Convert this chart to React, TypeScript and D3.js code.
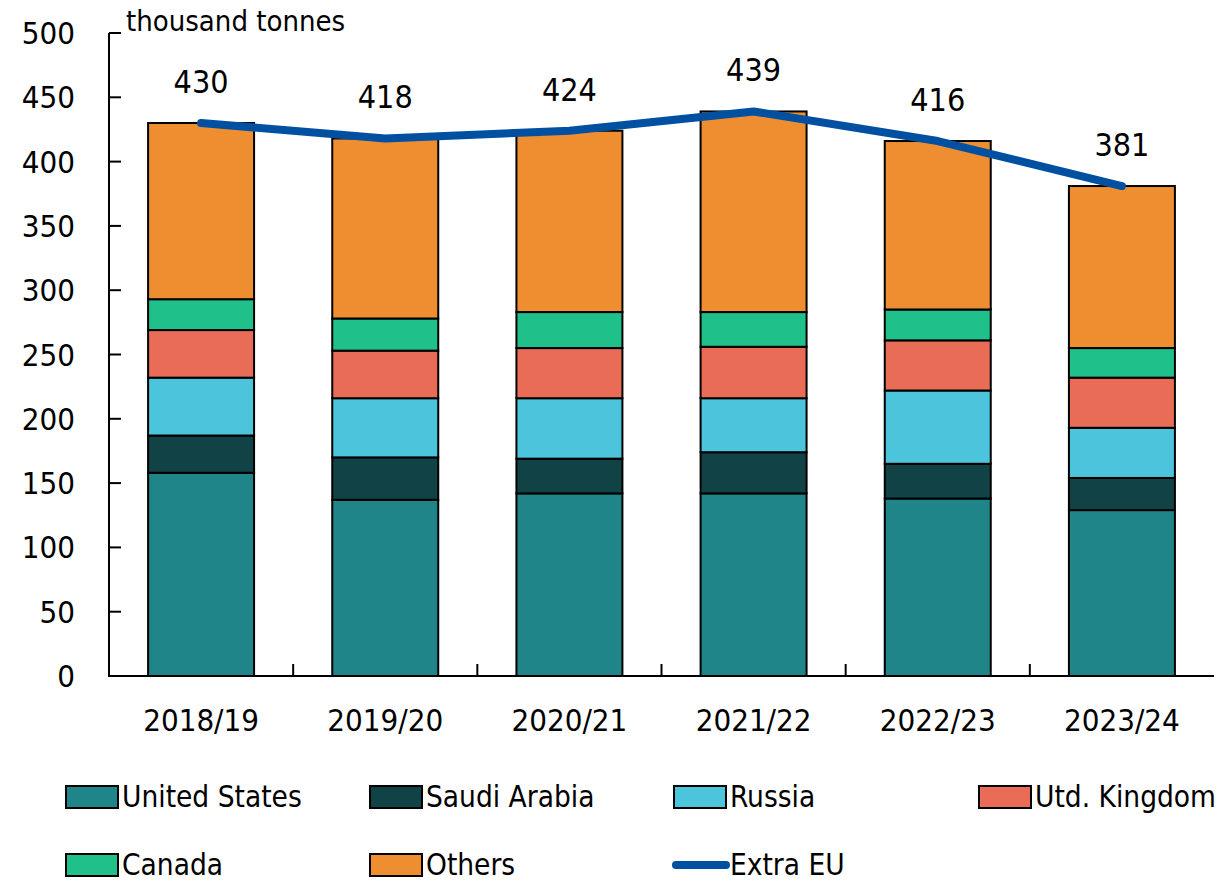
import React from "react";
import * as d3 from "d3";

const categories = ["2018/19", "2019/20", "2020/21", "2021/22", "2022/23", "2023/24"];
const seriesNames = ["United States", "Saudi Arabia", "Russia", "Utd. Kingdom", "Canada", "Others"];
const unitedStates = [158, 137, 142, 142, 138, 129];
const saudiArabia = [29, 33, 27, 32, 27, 25];
const russia = [45, 46, 47, 42, 57, 39];
const utdKingdom = [37, 37, 39, 40, 39, 39];
const canada = [24, 25, 28, 27, 24, 23];
const others = [137, 140, 141, 156, 131, 126];
const extraEU = [430, 418, 424, 439, 416, 381];
const yTicks = [0, 50, 100, 150, 200, 250, 300, 350, 400, 450, 500];
const colors = ["#1f8589", "#104246", "#4bc4dc", "#e96d56", "#20c08a", "#ee8e31"];
const lineColor = "#0050a2";

const W = 1224;
const H = 882;
const numFont = "'DejaVu Sans Condensed', 'DejaVu Sans', sans-serif";

export default function App() {
  const series = [unitedStates, saudiArabia, russia, utdKingdom, canada, others];
  const x = d3.scaleBand<string>().domain(categories).range([109, 1214]).paddingInner(0.4245).paddingOuter(0.21225);
  const y = d3.scaleLinear().domain([0, 500]).range([676, 33]);

  const rows = categories.map((c, i) => {
    const r: any = { cat: c };
    seriesNames.forEach((s, k) => (r[s] = series[k][i]));
    return r;
  });
  const stacked = d3.stack<any>().keys(seriesNames)(rows);

  const line = d3
    .line<number>()
    .x((_, i) => (x(categories[i]) as number) + x.bandwidth() / 2)
    .y((d) => y(d));

  const legendItems = [
    { name: "United States", type: "rect", color: colors[0], x: 66, row: 0 },
    { name: "Saudi Arabia", type: "rect", color: colors[1], x: 370, row: 0 },
    { name: "Russia", type: "rect", color: colors[2], x: 674, row: 0 },
    { name: "Utd. Kingdom", type: "rect", color: colors[3], x: 979, row: 0 },
    { name: "Canada", type: "rect", color: colors[4], x: 66, row: 1 },
    { name: "Others", type: "rect", color: colors[5], x: 370, row: 1 },
    { name: "Extra EU", type: "line", color: lineColor, x: 674, row: 1 },
  ];
  const rowY = [797, 865];

  return (
    <svg width={W} height={H} style={{ position: "absolute", left: 0, top: 0, background: "#fff" }}>
      {stacked.map((layer, k) => (
        <g key={k}>
          {layer.map((d, i) => (
            <rect
              key={i}
              x={x(categories[i])}
              y={y(d[1])}
              width={x.bandwidth()}
              height={y(d[0]) - y(d[1])}
              fill={colors[k]}
              stroke="#000"
              strokeWidth={2}
            />
          ))}
        </g>
      ))}

      <line x1={109} x2={109} y1={y(500)} y2={y(0)} stroke="#000" strokeWidth={2} />
      <line x1={108} x2={1214} y1={y(0)} y2={y(0)} stroke="#000" strokeWidth={2} />
      {yTicks.map((t) => (
        <g key={t}>
          <line x1={109} x2={121} y1={y(t)} y2={y(t)} stroke="#000" strokeWidth={2} />
          <text x={75} y={y(t)} textAnchor="end" dominantBaseline="central" fontFamily={numFont} fontSize={31} fill="#000">
            {t}
          </text>
        </g>
      ))}
      {categories.slice(1).map((c) => {
        const xx = (x(c) as number) - (x.step() * x.paddingInner()) / 2;
        return <line key={c} x1={xx} x2={xx} y1={y(0)} y2={y(0) - 12} stroke="#000" strokeWidth={2} />;
      })}
      {categories.map((c) => (
        <text
          key={c}
          x={(x(c) as number) + x.bandwidth() / 2}
          y={720}
          textAnchor="middle"
          dominantBaseline="central"
          fontFamily={numFont}
          fontSize={31}
          fill="#000"
        >
          {c}
        </text>
      ))}
      <text x={126} y={31} fontFamily={numFont} fontSize={29} fill="#000">
        thousand tonnes
      </text>

      <path d={line(extraEU) as string} fill="none" stroke={lineColor} strokeWidth={8} strokeLinecap="round" strokeLinejoin="round" />
      {extraEU.map((v, i) => (
        <text
          key={i}
          x={(x(categories[i]) as number) + x.bandwidth() / 2}
          y={y(v) - 30}
          textAnchor="middle"
          fontFamily={numFont}
          fontSize={32}
          fill="#000"
        >
          {v}
        </text>
      ))}

      {legendItems.map((it) => (
        <g key={it.name}>
          {it.type === "rect" ? (
            <rect x={it.x} y={rowY[it.row] - 11} width={52} height={22} fill={it.color} stroke="#000" strokeWidth={2} />
          ) : (
            <line x1={it.x + 2} x2={it.x + 52} y1={rowY[it.row]} y2={rowY[it.row]} stroke={it.color} strokeWidth={8} strokeLinecap="round" />
          )}
          <text x={it.x + 56} y={rowY[it.row]} dominantBaseline="central" fontFamily={numFont} fontSize={29.5} fill="#000">
            {it.name}
          </text>
        </g>
      ))}
    </svg>
  );
}
